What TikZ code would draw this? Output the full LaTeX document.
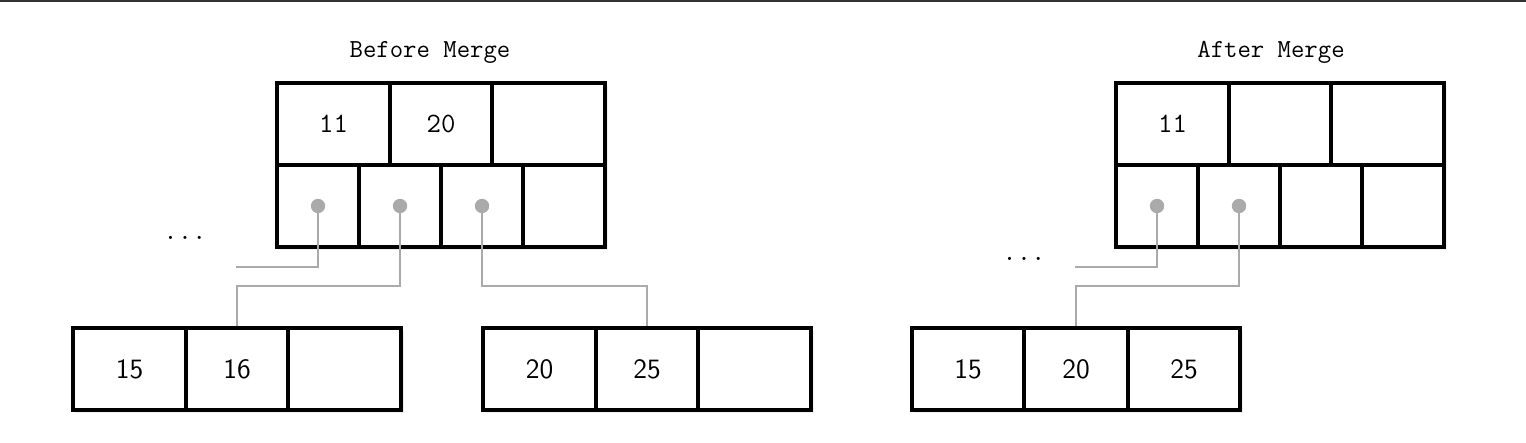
\documentclass[tikz,border=0pt]{standalone}
\usetikzlibrary{calc}
\definecolor{conncol}{HTML}{AAAAAA}
\definecolor{topbar}{HTML}{333333}
\tikzset{
  cell/.style={draw=black, line width=2.2pt, fill=white, minimum width=#1*0.5pt,
    minimum height=41pt, inner sep=0pt, anchor=center},
  keytt/.style={font=\fontsize{14pt}{16pt}\selectfont\ttfamily},
  keysf/.style={font=\fontsize{14pt}{16pt}\selectfont\sffamily},
  title/.style={font=\fontsize{13pt}{15pt}\selectfont\ttfamily},
  ell/.style={font=\fontsize{14pt}{16pt}\selectfont\ttfamily},
  conn/.style={draw=conncol, line width=1.1pt},
  dot/.style={fill=conncol},
  shade1/.style={fill=black, opacity=0.06},
}
\begin{document}
\begin{tikzpicture}[x=0.5pt,y=-0.5pt]
\useasboundingbox (0,0) rectangle (1526,443);
\fill[topbar] (0,0) rectangle (1526,2);

% ---------- shadows ----------
\fill[shade1] (279,86) rectangle (608,250);
\fill[shade1] (75,331) rectangle (404,413);
\fill[shade1] (485,331) rectangle (814,413);
\fill[shade1] (1118,86) rectangle (1447,250);
\fill[shade1] (914,331) rectangle (1243,413);

% ---------- Before Merge ----------
\node[title] (tb) at (430,52) {Before Merge};
\node[cell=113,keytt] (pt1) at (333.5,124) {11};
\node[cell=102,keytt] (pt2) at (441,124) {20};
\node[cell=113,keytt] (pt3) at (548.5,124) {};
\node[cell=82] (pb1) at (318,206) {};
\node[cell=82] (pb2) at (400,206) {};
\node[cell=82] (pb3) at (482,206) {};
\node[cell=82] (pb4) at (564,206) {};

\node[cell=113,keysf] (la1) at (129.5,369) {15};
\node[cell=102,keysf] (la2) at (237,369) {16};
\node[cell=113,keysf] (la3) at (344.5,369) {};

\node[cell=113,keysf] (ra1) at (539.5,369) {20};
\node[cell=102,keysf] (ra2) at (647,369) {25};
\node[cell=113,keysf] (ra3) at (754.5,369) {};

\node[ell] (e1) at (185,238) {...};
\coordinate (f1) at (236,267);

\draw[conn] (pb1.center) |- (f1);
\draw[conn] (pb2.center) |- ($(la2.north)+(0,-40)$) -- (la2.north);
\draw[conn] (pb3.center) |- ($(ra2.north)+(0,-40)$) -- (ra2.north);
\fill[dot] (pb1.center) circle[radius=3.6pt];
\fill[dot] (pb2.center) circle[radius=3.6pt];
\fill[dot] (pb3.center) circle[radius=3.6pt];

% ---------- After Merge ----------
\node[title] (ta) at (1271,52) {After Merge};
\node[cell=113,keytt] (qt1) at (1172.5,124) {11};
\node[cell=102,keytt] (qt2) at (1280,124) {};
\node[cell=113,keytt] (qt3) at (1387.5,124) {};
\node[cell=82] (qb1) at (1157,206) {};
\node[cell=82] (qb2) at (1239,206) {};
\node[cell=82] (qb3) at (1321,206) {};
\node[cell=82] (qb4) at (1403,206) {};

\node[cell=112,keysf] (ma1) at (968,369) {15};
\node[cell=104,keysf] (ma2) at (1076,369) {20};
\node[cell=112,keysf] (ma3) at (1184,369) {25};

\node[ell] (e2) at (1024,259) {...};
\coordinate (f2) at (1075,267);

\draw[conn] (qb1.center) |- (f2);
\draw[conn] (qb2.center) |- ($(ma2.north)+(0,-40)$) -- (ma2.north);
\fill[dot] (qb1.center) circle[radius=3.6pt];
\fill[dot] (qb2.center) circle[radius=3.6pt];
\end{tikzpicture}
\end{document}
